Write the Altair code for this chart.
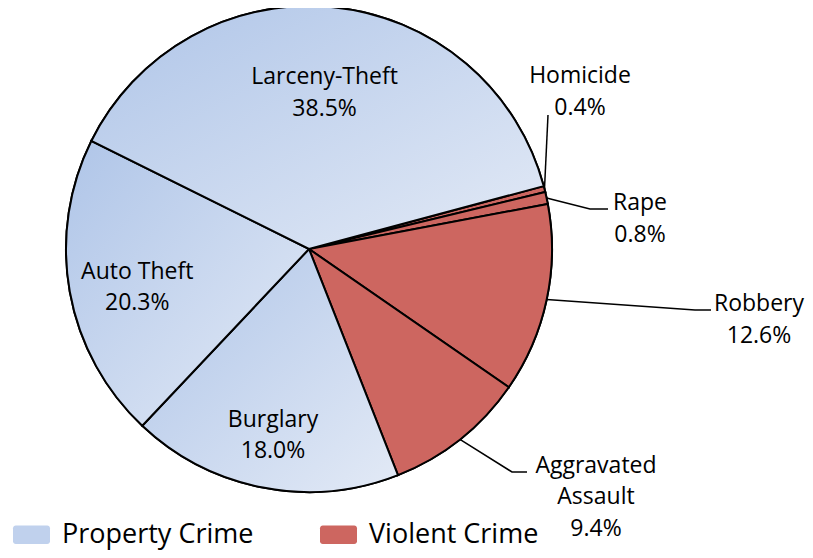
import math
import altair as alt
import pandas as pd

# ---- data ----
categories = ["Homicide", "Rape", "Robbery", "Aggravated Assault",
              "Burglary", "Auto Theft", "Larceny-Theft"]
label_names = ["Homicide", "Rape", "Robbery", "Aggravated\nAssault",
               "Burglary", "Auto Theft", "Larceny-Theft"]
shares = [0.4, 0.8, 12.6, 9.4, 18.0, 20.3, 38.5]
crime_types = ["Violent Crime"] * 4 + ["Property Crime"] * 3
legend_order = ["Property Crime", "Violent Crime"]

# ---- layout (pixels, chart coordinates) ----
CX, CY, R = 301, 241, 243
START = math.radians(75)
FONT = "Open Sans"
FS = 23
LH = 31.5
inner_radius = {"Burglary": 190, "Auto Theft": 176, "Larceny-Theft": 157}
inner_nudge = {"Auto Theft": math.radians(-2.5)}
outer_label_pos = {"Homicide": (572, 84), "Rape": (632, 211),
                   "Robbery": (751, 312), "Aggravated Assault": (588, 489)}
leader_bends = {"Homicide": [(540, 107)],
                "Rape": [(582, 201), (600, 201)],
                "Robbery": [(687, 302), (703, 302)],
                "Aggravated Assault": [(504, 464), (519, 464)]}

RED = "#cd6660"
BLUE_GRAD = {
    "gradient": "linear", "x1": 0, "y1": 0, "x2": 1, "y2": 1,
    "stops": [{"offset": 0, "color": "#afc5e8"},
              {"offset": 1, "color": "#e3eaf6"}],
}
ROUND_RECT = ("M-0.85,-0.5H0.85A0.15,0.15 0 0 1 1,-0.35V0.35"
              "A0.15,0.15 0 0 1 0.85,0.5H-0.85A0.15,0.15 0 0 1 -1,0.35"
              "V-0.35A0.15,0.15 0 0 1 -0.85,-0.5Z")

labels = [f"{n}\n{s:.1f}%" for n, s in zip(label_names, shares)]
df = pd.DataFrame({
    "idx": list(range(len(categories))),
    "category": categories,
    "share": shares,
    "type": crime_types,
})

# slice mid-angles derived from the data
total = sum(shares)
cum = 0.0
mids = {}
for c, s in zip(categories, shares):
    mids[c] = START + 2 * math.pi * (cum + s / 2) / total
    cum += s

# leader lines: start on the rim at the slice mid-angle
lead_rows = []
for c, pts in leader_bends.items():
    a = mids[c]
    lead_rows.append({"cat": c, "o": 0, "x": CX + R * math.sin(a), "y": CY - R * math.cos(a)})
    for i, (px, py) in enumerate(pts):
        lead_rows.append({"cat": c, "o": i + 1, "x": px, "y": py})
lead_df = pd.DataFrame(lead_rows)

# label table (first-line positions so that each block is centred)
lab_rows = []
for c, lab in zip(categories, labels):
    n = lab.count("\n") + 1
    if c in inner_radius:
        a = mids[c] + inner_nudge.get(c, 0.0)
        x = CX + inner_radius[c] * math.sin(a)
        y = CY - inner_radius[c] * math.cos(a)
    else:
        x, y = outer_label_pos[c]
    lab_rows.append({"cat": c, "text": lab, "lx": x, "ly": y - LH * (n - 1) / 2})
lab_df = pd.DataFrame(lab_rows)

theta = alt.Theta("share:Q", stack=True,
                  scale=alt.Scale(range=[START, START + 2 * math.pi]))
order = alt.Order("idx:Q")

base_arcs = alt.Chart(df).mark_arc(outerRadius=R, stroke="black", strokeWidth=2).encode(
    theta=theta, order=order, x=alt.value(CX), y=alt.value(CY),
    fill=alt.Fill("type:N",
                  scale=alt.Scale(domain=legend_order, range=["#c0d1ed", RED]),
                  legend=alt.Legend(
                      title=None, orient="none", legendX=5, legendY=508,
                      direction="horizontal",
                      symbolType=ROUND_RECT, symbolSize=1369,
                      symbolStrokeWidth=0, symbolOpacity=1,
                      labelFont=FONT, labelFontSize=27, labelColor="black",
                      labelLimit=400, labelOffset=12, columnPadding=66)),
)

grad_arcs = alt.Chart(df).mark_arc(outerRadius=R, stroke="black", strokeWidth=2).encode(
    theta=theta, order=order, x=alt.value(CX), y=alt.value(CY),
    fill=alt.condition(alt.datum.type == "Property Crime",
                       alt.value(BLUE_GRAD), alt.value(RED)),
)

leaders = alt.Chart(lead_df).mark_line(color="black", strokeWidth=1.5).encode(
    x=alt.X("x:Q", scale=None), y=alt.Y("y:Q", scale=None),
    detail="cat:N", order="o:Q",
)

texts = alt.Chart(lab_df).mark_text(
    font=FONT, fontSize=FS, color="black", lineBreak="\n", lineHeight=LH,
    align="center", baseline="middle",
).encode(
    x=alt.X("lx:Q", scale=None), y=alt.Y("ly:Q", scale=None), text="text:N",
)

chart = alt.layer(base_arcs, grad_arcs, leaders, texts).properties(
    width=797, height=542, autosize="none", padding=0,
).configure_view(strokeWidth=0)

chart.save("out.html", embed_options={"renderer": "svg", "actions": False})
